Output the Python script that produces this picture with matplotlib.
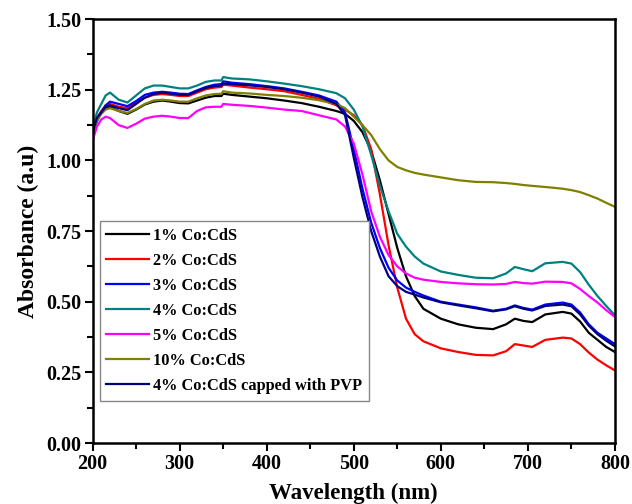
import matplotlib
matplotlib.use("Agg")
import matplotlib.pyplot as plt
from matplotlib.ticker import MultipleLocator

wavelength = [200, 205, 210, 215, 220, 230, 240, 250, 260, 270, 280, 290, 300, 310,
              320, 330, 340, 348, 350, 360, 380, 400, 420, 440, 460, 480, 490, 500,
              510, 520, 530, 540, 550, 560, 570, 580, 600, 620, 640, 660, 675, 685,
              695, 705, 720, 740, 750, 760, 770, 780, 790, 800]

co1 = [1.10, 1.14, 1.17, 1.185, 1.19, 1.175, 1.165, 1.18, 1.198, 1.208, 1.212, 1.208, 1.203, 1.202,
       1.212, 1.222, 1.228, 1.228, 1.236, 1.232, 1.226, 1.22, 1.212, 1.203, 1.19, 1.175, 1.165, 1.14,
       1.10, 1.035, 0.93, 0.81, 0.69, 0.59, 0.52, 0.475, 0.44, 0.42, 0.408, 0.403, 0.42, 0.44,
       0.432, 0.428, 0.455, 0.464, 0.458, 0.43, 0.39, 0.365, 0.34, 0.322]

co2 = [1.10, 1.15, 1.175, 1.195, 1.20, 1.19, 1.185, 1.205, 1.222, 1.232, 1.235, 1.232, 1.228, 1.228,
       1.24, 1.252, 1.258, 1.26, 1.268, 1.265, 1.258, 1.252, 1.245, 1.232, 1.218, 1.195, 1.18, 1.16,
       1.125, 1.04, 0.88, 0.70, 0.55, 0.44, 0.385, 0.36, 0.335, 0.322, 0.312, 0.31, 0.325, 0.35,
       0.345, 0.34, 0.365, 0.373, 0.37, 0.35, 0.32, 0.295, 0.275, 0.257]

co3 = [1.09, 1.14, 1.17, 1.195, 1.208, 1.20, 1.192, 1.21, 1.232, 1.24, 1.243, 1.24, 1.236, 1.235,
       1.248, 1.26, 1.268, 1.27, 1.28, 1.275, 1.27, 1.263, 1.255, 1.243, 1.23, 1.208, 1.17, 1.04,
       0.90, 0.78, 0.69, 0.62, 0.575, 0.55, 0.535, 0.522, 0.50, 0.49, 0.48, 0.468, 0.475, 0.487,
       0.478, 0.472, 0.49, 0.497, 0.49, 0.462, 0.42, 0.39, 0.37, 0.35]

co4 = [1.11, 1.17, 1.20, 1.23, 1.24, 1.215, 1.205, 1.23, 1.255, 1.265, 1.265, 1.26, 1.255, 1.255,
       1.265, 1.278, 1.283, 1.283, 1.295, 1.29, 1.287, 1.28, 1.272, 1.263, 1.252, 1.238, 1.22, 1.18,
       1.12, 1.02, 0.91, 0.82, 0.74, 0.695, 0.66, 0.635, 0.607, 0.595, 0.585, 0.583, 0.60, 0.623,
       0.615, 0.608, 0.636, 0.641, 0.635, 0.605, 0.56, 0.52, 0.485, 0.452]

co5 = [1.07, 1.12, 1.145, 1.155, 1.15, 1.125, 1.115, 1.13, 1.148, 1.155, 1.158, 1.155, 1.15, 1.15,
       1.175, 1.188, 1.19, 1.19, 1.20, 1.197, 1.193, 1.187, 1.18, 1.175, 1.16, 1.145, 1.12, 1.06,
       0.95, 0.82, 0.73, 0.665, 0.625, 0.60, 0.585, 0.578, 0.57, 0.565, 0.562, 0.561, 0.563, 0.57,
       0.566, 0.564, 0.571, 0.57, 0.565, 0.545, 0.52, 0.497, 0.47, 0.446]

co10 = [1.10, 1.14, 1.165, 1.18, 1.185, 1.175, 1.168, 1.182, 1.20, 1.212, 1.215, 1.212, 1.208, 1.208,
        1.22, 1.23, 1.235, 1.236, 1.245, 1.24, 1.237, 1.232, 1.228, 1.222, 1.213, 1.20, 1.185, 1.155,
        1.125, 1.09, 1.04, 1.00, 0.977, 0.965, 0.956, 0.95, 0.94, 0.93, 0.924, 0.923, 0.92, 0.917,
        0.913, 0.91, 0.906, 0.90, 0.895, 0.888, 0.877, 0.865, 0.85, 0.836]

co4_pvp = [1.10, 1.15, 1.17, 1.19, 1.195, 1.185, 1.178, 1.20, 1.222, 1.235, 1.24, 1.236, 1.232, 1.232,
           1.245, 1.257, 1.263, 1.265, 1.272, 1.27, 1.266, 1.26, 1.252, 1.24, 1.226, 1.20, 1.16, 1.01,
           0.87, 0.75, 0.66, 0.59, 0.555, 0.535, 0.525, 0.515, 0.498, 0.487, 0.477, 0.466, 0.473, 0.484,
           0.475, 0.469, 0.485, 0.49, 0.484, 0.455, 0.415, 0.385, 0.362, 0.342]

labels = ["1% Co:CdS", "2% Co:CdS", "3% Co:CdS", "4% Co:CdS", "5% Co:CdS",
          "10% Co:CdS", "4% Co:CdS capped with PVP"]
colors = ["#000000", "#ff0000", "#0000ff", "#008080", "#ff00ff", "#808000", "#000080"]
series = [co1, co2, co3, co4, co5, co10, co4_pvp]

xticks = [200, 300, 400, 500, 600, 700, 800]
yticks = [0.00, 0.25, 0.50, 0.75, 1.00, 1.25, 1.50]

plt.rcParams['font.family'] = ['Liberation Serif', 'DejaVu Serif']
plt.rcParams['font.weight'] = 'bold'

fig = plt.figure(figsize=(6.32, 5.04), dpi=100)
ax = fig.add_axes([0.1465, 0.121, 0.8265, 0.841])

for y, c, lab in zip(series, colors, labels):
    ax.plot(wavelength, y, color=c, lw=1.6, label=lab)

ax.set_xlim(200, 800)
ax.set_ylim(0, 1.5)
ax.set_xticks(xticks)
ax.set_yticks(yticks)
ax.set_xticklabels([str(t) for t in xticks], fontsize=14.5, fontweight='bold')
ax.set_yticklabels([f"{t:.2f}" for t in yticks], fontsize=14.5, fontweight='bold')
ax.xaxis.set_minor_locator(MultipleLocator(50))
ax.yaxis.set_minor_locator(MultipleLocator(0.125))
ax.tick_params(which='major', direction='out', length=6, width=1.5, pad=2)
ax.tick_params(which='minor', direction='out', length=4, width=1.5)
ax.tick_params(top=False, right=False)
for s in ax.spines.values():
    s.set_linewidth(1.8)

ax.set_xlabel("Wavelength (nm)", fontsize=16.5, fontweight='bold', labelpad=6)
ax.set_ylabel("Absorbance (a.u)", fontsize=17, fontweight='bold', labelpad=5)

leg = ax.legend(loc='lower left', bbox_to_anchor=(0.014, 0.10), fontsize=11.8,
                frameon=True, fancybox=False, edgecolor='#888888', framealpha=1,
                handlelength=2.6, handletextpad=0.25, labelspacing=0.55,
                borderpad=0.4, borderaxespad=0)
leg.get_frame().set_linewidth(1.0)
for t in leg.get_texts():
    t.set_fontweight('bold')

fig.savefig("out.png", dpi=100)
